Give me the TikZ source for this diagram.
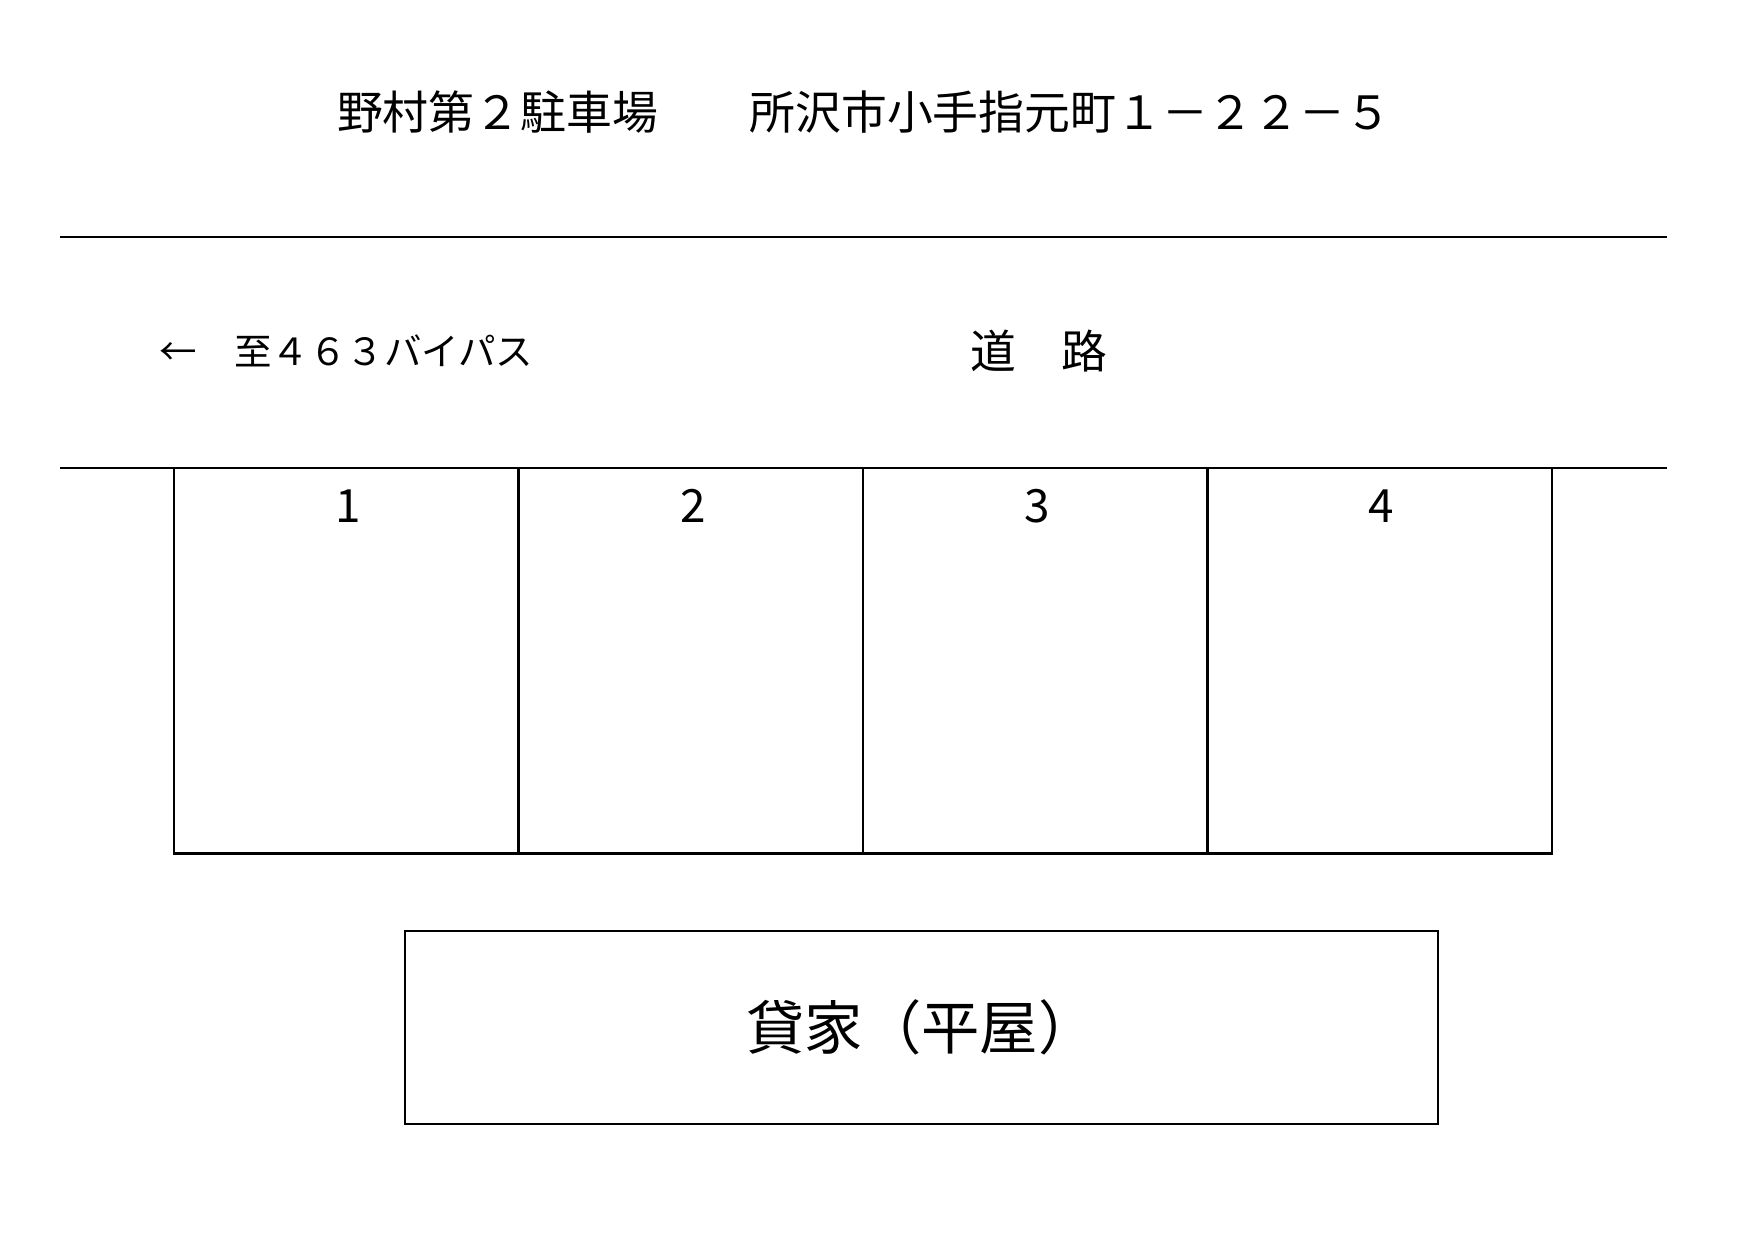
\documentclass[tikz,border=0pt]{standalone}
\usepackage{fontspec}
\setmainfont{Noto Sans CJK JP}
\begin{document}
\begin{tikzpicture}[x=0.48pt,y=-0.48pt,
  ln/.style={line width=1pt,black},
  txt/.style={inner sep=0pt,outer sep=0pt,font=\fontsize{22pt}{26pt}\selectfont},
  small/.style={inner sep=0pt,outer sep=0pt,font=\fontsize{18pt}{22pt}\selectfont},
  big/.style={inner sep=0pt,outer sep=0pt,font=\fontsize{28pt}{32pt}\selectfont}]
\useasboundingbox (0,0) rectangle (1754,1240);
\fill[white] (0,0) rectangle (1754,1240);
% title
\node[txt,anchor=west] (title) at (337,112) {野村第２駐車場　　所沢市小手指元町１－２２－５};
% road lines
\coordinate (r1a) at (60,237);
\coordinate (r1b) at (1667,237);
\coordinate (r2a) at (60,468);
\coordinate (r2b) at (1667,468);
\draw[ln] (r1a) -- (r1b);
\draw[ln] (r2a) -- (r2b);
\node[small,anchor=west] (dir) at (159,351) {←　至４６３バイパス};
\node[txt] (road) at (1039,351) {道　路};
% stalls
\foreach \i/\xa/\xb in {1/174/518.5,2/518.5/863,3/863/1207.5,4/1207.5/1552}{
  \coordinate (s\i a) at (\xa,468);
  \coordinate (s\i b) at (\xb,853.5);
}
\draw[ln] (s1a) rectangle (s1b);
\draw[ln] (s2a) rectangle (s2b);
\draw[ln] (s3a) rectangle (s3b);
\draw[ln] (s4a) rectangle (s4b);
\node[txt] (n1) at (348,506) {1};
\node[txt] (n2) at (693,506) {2};
\node[txt] (n3) at (1037.5,506) {3};
\node[txt] (n4) at (1381.5,506) {4};
% house
\node[draw,ln,minimum width=1033*0.48pt,minimum height=193*0.48pt,inner sep=0pt,anchor=north west] (house) at (404,930) {};
\node[big] (houselbl) at (house.center) {貸家（平屋）};
\end{tikzpicture}
\end{document}
